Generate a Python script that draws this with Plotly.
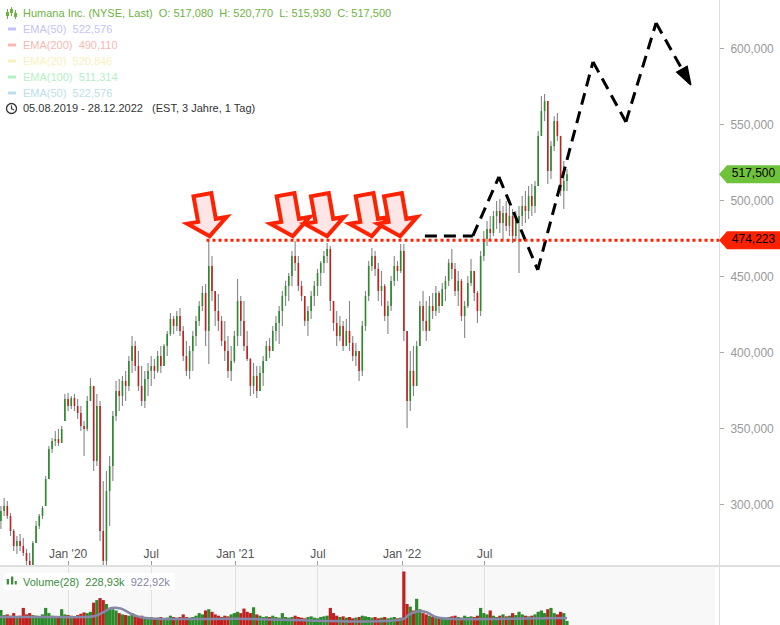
import plotly.graph_objects as go
import pandas as pd

# ---------------- data (weekly bars) ----------------
week_dates = pd.date_range("2019-08-07", periods=178, freq="7D")

high = [
    299.3, 304.6, 302.6, 294.7, 284.2, 279.6, 280.9, 278.3, 271.0, 268.4,
    276.3, 289.5, 294.1, 299.3, 319.1, 338.8, 344.1, 348.7, 350.0, 352.0,
    373.0, 373.7, 371.7, 373.0, 369.7, 365.1, 355.3, 371.7, 383.5, 378.3,
    373.0, 368.4, 315.8, 322.4, 332.2, 361.8, 381.6, 382.9, 384.9, 388.2,
    398.0, 411.2, 407.9, 401.3, 391.4, 388.2, 393.4, 398.0, 396.1, 401.3,
    404.6, 405.9, 414.5, 426.3, 424.3, 427.6, 429.6, 417.8, 407.9, 404.6,
    414.5, 424.3, 434.2, 444.1, 445.4, 473.7, 463.8, 440.8, 438.8, 424.3,
    421.1, 411.2, 404.6, 414.5, 448.7, 437.5, 434.2, 414.5, 396.7, 393.4,
    391.4, 391.4, 398.0, 407.9, 409.9, 417.8, 424.3, 430.9, 440.8, 447.4,
    452.6, 467.1, 473.7, 463.8, 447.4, 437.5, 430.9, 440.8, 447.4, 455.3,
    460.5, 467.1, 472.4, 470.4, 434.2, 427.6, 424.3, 421.1, 422.4, 434.2,
    411.2, 406.6, 401.3, 421.1, 440.8, 460.5, 469.1, 467.1, 459.2, 453.9,
    445.4, 434.2, 450.6, 463.8, 460.5, 471.7, 471.7, 414.5, 401.3, 404.6,
    407.9, 434.2, 440.8, 434.2, 437.5, 439.5, 444.1, 440.8, 446.1, 450.6,
    461.8, 468.4, 459.2, 453.9, 448.7, 434.2, 450.6, 461.8, 453.9, 440.8,
    467.1, 480.3, 486.8, 490.1, 493.4, 500.0, 501.3, 496.7, 500.0, 496.7,
    494.7, 493.4, 496.7, 503.3, 506.6, 509.9, 511.2, 513.2, 546.1, 569.1,
    570.4, 565.8, 539.5, 555.7, 557.9, 542.8, 526.3, 520.8]

low = [
    284.2, 292.8, 290.8, 279.6, 269.7, 267.8, 269.7, 266.4, 257.9, 253.3,
    256.6, 275.0, 284.2, 290.8, 299.3, 317.1, 334.2, 338.8, 338.8, 340.8,
    355.3, 361.8, 363.2, 361.8, 356.6, 348.7, 332.2, 348.7, 368.4, 322.4,
    325.6, 276.3, 230.3, 249.6, 286.2, 315.8, 355.3, 361.8, 365.1, 368.4,
    375.0, 386.8, 388.2, 375.0, 365.1, 363.8, 371.7, 378.3, 382.9, 386.8,
    386.8, 391.4, 398.0, 411.2, 412.5, 414.5, 411.2, 394.7, 384.9, 382.9,
    388.2, 404.6, 417.8, 427.6, 404.6, 392.8, 434.2, 417.8, 414.5, 404.6,
    394.7, 383.5, 381.6, 393.4, 404.6, 411.2, 401.3, 394.7, 371.7, 373.0,
    370.4, 375.0, 378.3, 394.7, 396.7, 401.3, 407.9, 405.9, 417.8, 430.9,
    434.2, 444.1, 453.9, 440.8, 434.2, 417.8, 411.2, 422.4, 430.9, 437.5,
    444.1, 452.6, 459.2, 427.6, 414.5, 404.6, 407.9, 401.3, 404.6, 401.3,
    394.7, 391.4, 381.6, 384.9, 414.5, 434.2, 453.9, 450.6, 434.2, 430.9,
    421.1, 412.5, 427.6, 444.1, 447.4, 452.6, 407.9, 350.7, 361.8, 371.7,
    378.3, 404.6, 414.5, 407.9, 414.5, 422.4, 424.3, 426.3, 430.9, 434.2,
    444.1, 448.7, 437.5, 430.9, 421.1, 409.9, 429.6, 444.1, 434.2, 419.7,
    424.3, 460.5, 470.4, 473.7, 477.0, 481.6, 478.9, 475.0, 480.3, 477.0,
    472.4, 473.7, 452.6, 483.6, 485.5, 488.2, 490.1, 492.1, 509.9, 542.8,
    552.6, 511.2, 514.5, 532.9, 539.5, 503.3, 494.7, 506.6]

open_ = [
    289.5, 296.1, 299.3, 292.8, 282.9, 273.0, 276.3, 273.0, 268.4, 263.2,
    259.9, 275.0, 286.2, 292.8, 299.3, 317.1, 336.8, 342.1, 343.4, 340.8,
    355.3, 369.7, 365.1, 370.4, 365.1, 360.5, 352.0, 350.0, 368.4, 378.3,
    328.9, 365.1, 282.9, 263.2, 309.2, 325.6, 358.6, 375.0, 371.7, 381.6,
    378.3, 394.7, 404.6, 391.4, 378.3, 368.4, 382.9, 388.2, 391.4, 388.2,
    398.0, 391.4, 404.6, 412.5, 422.4, 417.8, 424.3, 414.5, 398.0, 388.2,
    401.3, 411.2, 421.1, 430.9, 439.5, 414.5, 457.2, 440.8, 427.6, 421.1,
    407.9, 401.3, 388.2, 394.7, 411.2, 434.2, 421.1, 404.6, 396.1, 378.3,
    384.9, 375.0, 386.8, 394.7, 404.6, 401.3, 414.5, 419.7, 427.6, 437.5,
    444.1, 450.6, 463.8, 459.2, 444.1, 437.5, 421.1, 427.6, 437.5, 444.1,
    452.6, 459.2, 463.8, 468.4, 434.2, 419.7, 411.2, 417.8, 404.6, 414.5,
    406.6, 398.0, 401.3, 388.2, 417.8, 437.5, 457.2, 463.8, 455.3, 440.8,
    444.1, 424.3, 430.9, 447.4, 457.2, 453.9, 467.1, 414.5, 368.4, 388.2,
    378.3, 404.6, 430.9, 421.1, 414.5, 430.9, 427.6, 439.5, 430.9, 442.1,
    447.4, 459.2, 455.3, 440.8, 447.4, 424.3, 430.9, 446.1, 453.9, 439.5,
    427.6, 463.8, 475.0, 481.6, 478.9, 490.1, 493.4, 485.5, 492.1, 483.6,
    490.1, 477.0, 486.8, 490.1, 496.7, 493.4, 503.3, 496.7, 509.9, 542.8,
    559.2, 565.8, 519.7, 536.2, 552.6, 542.8, 506.6, 513.2]

close = [
    296.1, 299.3, 292.8, 282.9, 273.0, 276.3, 273.0, 268.4, 263.2, 259.9,
    275.0, 286.2, 292.8, 298.0, 317.1, 336.8, 342.1, 343.4, 340.8, 350.0,
    369.7, 365.1, 370.4, 365.1, 360.5, 352.0, 350.0, 368.4, 378.3, 328.9,
    365.1, 282.9, 263.2, 309.2, 325.6, 358.6, 375.0, 371.7, 381.6, 378.3,
    394.7, 404.6, 391.4, 378.3, 368.4, 382.9, 388.2, 391.4, 388.2, 398.0,
    391.4, 404.6, 412.5, 422.4, 417.8, 424.3, 414.5, 398.0, 388.2, 401.3,
    411.2, 421.1, 430.9, 439.5, 414.5, 457.2, 440.8, 427.6, 421.1, 407.9,
    401.3, 388.2, 394.7, 411.2, 434.2, 421.1, 404.6, 396.1, 378.3, 384.9,
    375.0, 386.8, 394.7, 404.6, 401.3, 414.5, 419.7, 427.6, 437.5, 444.1,
    450.6, 463.8, 459.2, 444.1, 437.5, 421.1, 427.6, 437.5, 444.1, 452.6,
    459.2, 463.8, 468.4, 434.2, 419.7, 411.2, 417.8, 404.6, 414.5, 406.6,
    398.0, 401.3, 388.2, 417.8, 437.5, 457.2, 463.8, 455.3, 440.8, 444.1,
    424.3, 430.9, 447.4, 457.2, 453.9, 467.1, 414.5, 368.4, 388.2, 378.3,
    404.6, 430.9, 421.1, 414.5, 430.9, 427.6, 439.5, 430.9, 442.1, 447.4,
    459.2, 455.3, 440.8, 447.4, 424.3, 430.9, 446.1, 453.9, 439.5, 427.6,
    463.8, 475.0, 481.6, 478.9, 490.1, 493.4, 485.5, 492.1, 483.6, 490.1,
    477.0, 486.8, 490.1, 496.7, 493.4, 503.3, 496.7, 509.9, 542.8, 559.2,
    565.8, 519.7, 536.2, 552.6, 542.8, 506.6, 513.2, 517.5]

volume_k = [
    1540, 1150, 1200, 1100, 1300, 1000, 1100, 1700, 1200, 1300,
    1150, 1100, 1000, 1200, 1700, 1300, 1100, 1000, 1050, 1600,
    1200, 1150, 1100, 1000, 1150, 1250, 1350, 1300, 1400, 2100,
    2300, 2460, 2300, 2000, 1700, 1600, 1500, 1300, 1200, 1150,
    1100, 1300, 1050, 1000, 1100, 1000, 950, 1000, 900, 950,
    1000, 900, 950, 1100, 1000, 950, 1000, 1200, 1000, 950,
    1000, 1100, 1300, 1200, 1500, 1600, 1400, 1200, 1100, 1000,
    1100, 1050, 1200, 1300, 1400, 1300, 1650, 1400, 1300, 1750,
    1200, 1100, 1000, 1050, 1000, 1100, 1000, 950, 1300, 1000,
    950, 1000, 1100, 1000, 950, 900, 1000, 1050, 950, 900,
    1000, 1050, 1100, 1700, 1300, 1100, 1000, 1050, 950, 1000,
    900, 950, 1000, 1100, 1050, 1000, 950, 1000, 900, 950,
    1000, 900, 950, 1000, 900, 950, 4500, 2000, 1800, 1500,
    2400, 1600, 1300, 1200, 1100, 1000, 1050, 950, 1000, 900,
    1000, 1050, 1100, 1000, 950, 1100, 1000, 1050, 1000, 1100,
    1700, 1300, 1200, 1500, 1100, 1000, 1100, 1200, 1050, 1100,
    1300, 1150, 1400, 1200, 1100, 1050, 1100, 1200, 1400, 1500,
    1300, 1600, 1700, 1300, 1200, 1400, 1300, 700]

vol_ma_dates = ["2019-08-05", "2019-11-01", "2020-02-01", "2020-03-01", "2020-03-20",
                "2020-04-05", "2020-04-25", "2020-05-15", "2020-06-05", "2020-07-15",
                "2021-01-01", "2022-01-05", "2022-01-15", "2022-02-01", "2022-02-12",
                "2022-02-25", "2022-03-15", "2022-04-15", "2022-10-01", "2022-12-28"]
vol_ma_k = [1000, 1000, 1000, 1080, 1400, 1690, 1650, 1300, 1000, 860,
            870, 850, 1150, 1400, 1470, 1350, 1000, 860, 880, 923]

support_start = "2020-10-30"
support_level = 474.223
last_price = 517.500
last_ohlc = [("O", 517.080), ("H", 520.770), ("L", 515.930), ("C", 517.500)]
ema_names = ["EMA(50)", "EMA(200)", "EMA(20)", "EMA(100)", "EMA(50)"]
ema_values = [522.576, 490.110, 520.846, 511.314, 522.576]
ema_colors = ["#c3c3f7", "#f7b8b0", "#f9f1bd", "#b3f1c4", "#bcdeeb"]
volume_last_k = 228.93
volume_avg_k = 922.92

arrow_dates = ["2020-11-06", "2021-05-07", "2021-07-21", "2021-10-27", "2021-12-28"]
proj_dates = ["2022-02-20", "2022-06-05", "2022-08-01", "2022-10-25",
              "2023-02-23", "2023-05-06", "2023-07-11", "2023-09-25"]
proj_prices = [477.0, 477.0, 515.8, 454.6, 591.5, 552.0, 617.1, 576.3]

price_ticks = [300, 350, 400, 450, 500, 550, 600]
time_tickvals = ["2020-01-01", "2020-07-01", "2021-01-01", "2021-07-01", "2022-01-01", "2022-07-01"]
time_ticktext = ["Jan '20", "Jul", "Jan '21", "Jul", "Jan '22", "Jul"]

# ---------------- layout geometry / styles ----------------
W, H = 780, 625
PLOT_R = 719
PRICE_BOTTOM = 565
VOL_TOP = 567
X_RANGE = ["2019-08-05", "2023-11-25 18:00"]
Y_RANGE = [260.5, 632.2]
Y2_RANGE = [385, 4846]
UP, DOWN, WICK = "#2b8a2b", "#c0211f", "#858585"
FONT = "Liberation Sans, Arial, sans-serif"


def de(v, nd=3):
    s = f"{v:,.{nd}f}"
    return s.replace(",", "X").replace(".", ",").replace("X", ".")


def px(x):
    return x / W


def py(y):
    return 1 - y / H


fig = go.Figure()

# wicks
wx, wy = [], []
for d, h, l in zip(week_dates, high, low):
    wx += [d, d, None]
    wy += [l, h, None]
fig.add_trace(go.Scatter(x=wx, y=wy, mode="lines", line=dict(color=WICK, width=1.1),
                         hoverinfo="skip"))
# bodies
for up, col in ((True, UP), (False, DOWN)):
    bx, by = [], []
    for d, o, c in zip(week_dates, open_, close):
        if (c >= o) == up:
            bx += [d, d, None]
            by += [o, c, None]
    fig.add_trace(go.Scatter(x=bx, y=by, mode="lines", line=dict(color=col, width=1.6),
                             hoverinfo="skip"))

# projection path
n = len(proj_dates)
fig.add_trace(go.Scatter(
    x=proj_dates, y=proj_prices, mode="lines+markers",
    line=dict(color="black", width=3, dash="12px,7px"),
    marker=dict(symbol="arrow", size=[0] * (n - 1) + [19], angleref="previous", color="black",
                opacity=1, line=dict(color="black", width=1.5)),
    hoverinfo="skip"))

# volume
vcol = [UP if c >= o else DOWN for o, c in zip(open_, close)]
fig.add_trace(go.Bar(x=week_dates, y=volume_k, marker=dict(color=vcol, line=dict(width=0)),
                     width=7 * 86400000, xaxis="x2", yaxis="y2", hoverinfo="skip"))
fig.add_trace(go.Scatter(x=vol_ma_dates, y=vol_ma_k, mode="lines",
                         line=dict(color="#8787a8", width=2.5, shape="spline"),
                         xaxis="x2", yaxis="y2", hoverinfo="skip"))

# price tags on the right
usd_per_px = (Y_RANGE[1] - Y_RANGE[0]) / PRICE_BOTTOM
for p, col in ((last_price, "#6fc23b"), (support_level, "#ff2200")):
    h = 9 * usd_per_px
    fig.add_trace(go.Scatter(x=[0, 8, 61, 61, 8, 0], y=[p, p + h, p + h, p - h, p - h, p],
                             mode="lines", fill="toself", fillcolor=col, line=dict(width=0),
                             xaxis="x3", yaxis="y", hoverinfo="skip"))
    fig.add_trace(go.Scatter(x=[34.5], y=[p], mode="text", text=[de(p)],
                             textfont=dict(size=12, color="black", family=FONT),
                             xaxis="x3", yaxis="y", hoverinfo="skip"))

shapes = []
# volume panel background
shapes.append(dict(type="rect", xref="paper", yref="paper", x0=0, x1=px(715), y0=0, y1=py(VOL_TOP),
                   fillcolor="#f8f8f8", line=dict(width=0), layer="below"))
# separator band
shapes.append(dict(type="rect", xref="paper", yref="paper", x0=0, x1=1, y0=py(VOL_TOP), y1=py(PRICE_BOTTOM),
                   fillcolor="#dedede", line=dict(width=0), layer="above"))
# support line
shapes.append(dict(type="line", xref="x", yref="y", x0=support_start, x1=X_RANGE[1],
                   y0=support_level, y1=support_level,
                   line=dict(color="#ff2200", width=3, dash="dot")))
# hollow arrows
arrow_path = "M0,4 L16.9,23.2 L6.1,21.3 L1.6,47 L-16.2,43.8 L-11.6,18.2 L-22.5,16.3 Z"
for d in arrow_dates:
    shapes.append(dict(type="path", xref="x", yref="y", xsizemode="pixel", ysizemode="pixel",
                       xanchor=d, yanchor=support_level, path=arrow_path,
                       fillcolor="#ffe5e5", line=dict(color="#ff2200", width=4)))
# EMA legend dashes
for i, col in enumerate(ema_colors):
    yc = 29 + 16 * i
    shapes.append(dict(type="rect", xref="paper", yref="paper", x0=px(8), x1=px(16),
                       y0=py(yc + 1.5), y1=py(yc - 1.5), fillcolor=col, line=dict(width=0)))
# OHLC icon
g = "#6db33f"
for xc, (w0, w1, b0, b1) in zip((7.5, 11.5, 15.5), ((9, 19, 12, 16), (7, 16, 9, 13), (10, 19, 13, 17))):
    shapes.append(dict(type="line", xref="paper", yref="paper", x0=px(xc), x1=px(xc),
                       y0=py(w1), y1=py(w0), line=dict(color=g, width=1)))
    shapes.append(dict(type="rect", xref="paper", yref="paper", x0=px(xc - 1.5), x1=px(xc + 1.5),
                       y0=py(b1), y1=py(b0), fillcolor=g, line=dict(width=0)))
# clock icon
shapes.append(dict(type="circle", xref="paper", yref="paper", x0=px(6.5), x1=px(16.5),
                   y0=py(113.5), y1=py(103.5), line=dict(color="#333", width=1.3)))
shapes.append(dict(type="path", xref="paper", yref="paper",
                   path=f"M{px(11.5)},{py(105.5)} L{px(11.5)},{py(108.7)} L{px(14)},{py(110)}",
                   line=dict(color="#333", width=1.2)))
# volume label box + icon
shapes.append(dict(type="rect", xref="paper", yref="paper", x0=px(4), x1=px(175),
                   y0=py(590), y1=py(573), fillcolor="white", line=dict(width=0)))
for x0, x1, yt in ((6.7, 9, 579), (11, 13.3, 576.5), (14.7, 16.8, 581)):
    shapes.append(dict(type="rect", xref="paper", yref="paper", x0=px(x0), x1=px(x1),
                       y0=py(584.5), y1=py(yt), fillcolor="#3c8c3c", line=dict(width=0)))

annotations = []


def label(text, y, color, x=21):
    annotations.append(dict(text=text, xref="paper", yref="paper", x=px(x), y=py(y),
                            xanchor="left", yanchor="middle", showarrow=False,
                            font=dict(size=11, color=color, family=FONT)))


label("Humana Inc. (NYSE, Last)  " + "  ".join(f"{k}: {de(v)}" for k, v in last_ohlc), 13, "#6db33f")
for i, (nm, val, col) in enumerate(zip(ema_names, ema_values, ema_colors)):
    label(f"{nm}  {de(val)}", 29 + 16 * i, col)
label("05.08.2019 - 28.12.2022   (EST, 3 Jahre, 1 Tag)", 108.5, "#333333")
label(f"<span style='color:#3c8c3c'>Volume(28)  {de(volume_last_k, 2)}k</span>  "
      f"<span style='color:#8585a5'>{de(volume_avg_k, 2)}k</span>", 581.5, "#3c8c3c")

x_dom = [0, PLOT_R / W]
fig.update_layout(
    width=W, height=H, margin=dict(l=0, r=0, t=0, b=0),
    paper_bgcolor="white", plot_bgcolor="rgba(0,0,0,0)",
    showlegend=False, hovermode=False, separators=",.",
    font=dict(family=FONT, size=11),
    xaxis=dict(domain=x_dom, range=X_RANGE, type="date", anchor="y",
               tickvals=time_tickvals, ticktext=time_ticktext,
               ticks="inside", ticklen=4, tickcolor="#999", ticklabelposition="inside",
               tickfont=dict(size=12, color="#555"), showgrid=False, showline=False, zeroline=False),
    yaxis=dict(domain=[1 - PRICE_BOTTOM / H, 1], range=Y_RANGE, side="right", anchor="x",
               tickvals=price_ticks, tickformat=".3f", ticks="outside", ticklen=4,
               tickcolor="#aaa", ticklabelstandoff=4,
               tickfont=dict(size=12, color="#999"), showgrid=False,
               showline=True, linecolor="#dcdcdc", zeroline=False),
    xaxis2=dict(domain=x_dom, matches="x", type="date", anchor="y2", showticklabels=False,
                tickvals=time_tickvals, ticks="", showgrid=True, gridcolor="#e0e0e0",
                showline=False, zeroline=False),
    yaxis2=dict(domain=[0, 1 - VOL_TOP / H], range=Y2_RANGE, anchor="x2", side="right",
                showticklabels=False, ticks="", showgrid=False, showline=True,
                linecolor="#dcdcdc", zeroline=False),
    xaxis3=dict(domain=[PLOT_R / W, 1], range=[0, W - PLOT_R], anchor="y", visible=False),
    shapes=shapes, annotations=annotations,
)

fig.write_html("out.html", config={"displayModeBar": False},
               post_script="document.body.style.margin='0';document.body.style.padding='0';")
